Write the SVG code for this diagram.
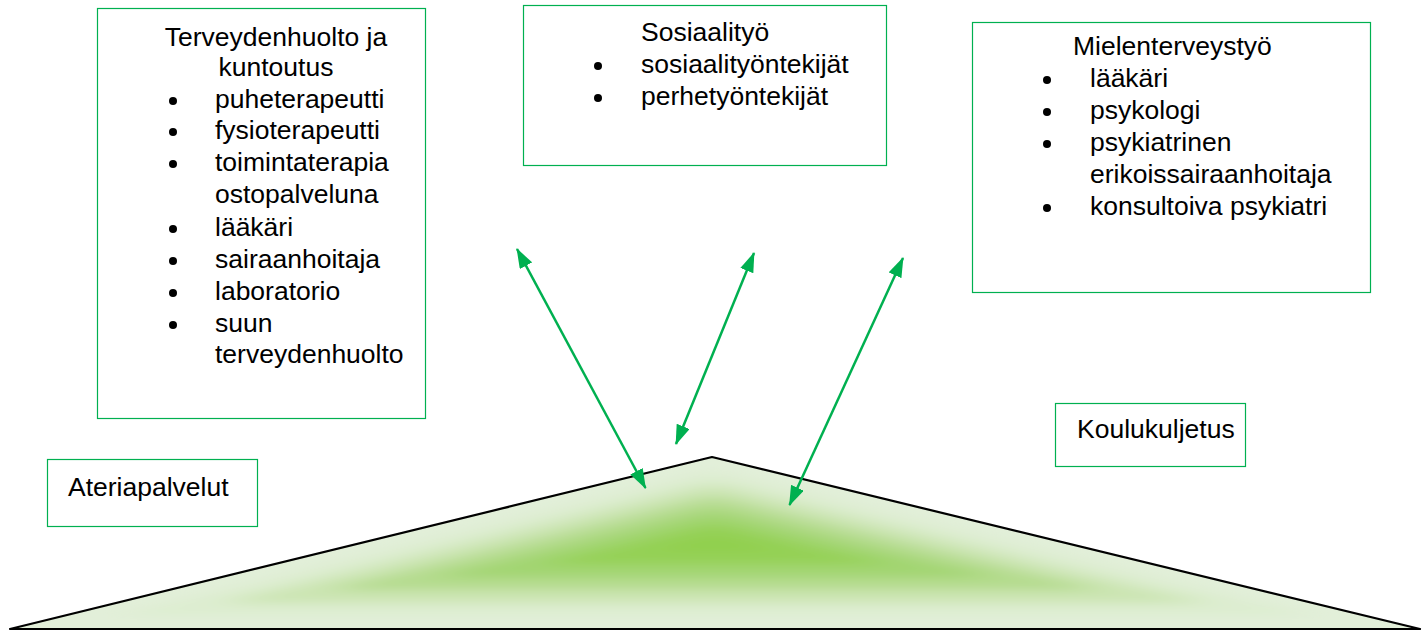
<svg xmlns="http://www.w3.org/2000/svg" width="1425" height="631" viewBox="0 0 1425 631">
<style>
.box{fill:#fff;stroke:#00B050;stroke-width:1.2}
text{font-family:"Liberation Sans",Arial,sans-serif;font-size:26.5px;fill:#000}
.c{text-anchor:middle}
circle{fill:#000}
.con{stroke:#00B050;stroke-width:2.5;fill:none;marker-start:url(#ah);marker-end:url(#ah)}
</style>
<defs>
<marker id="ah" viewBox="0 0 20 14" refX="19" refY="7" markerWidth="20" markerHeight="14" markerUnits="userSpaceOnUse" orient="auto-start-reverse">
<path d="M0,0 L20,7 L0,14 Z" fill="#00B050"/>
</marker>
<clipPath id="tri">
<polygon points="10,629 712,457 1420,629"/>
</clipPath>
<filter id="blur" x="-10%" y="-50%" width="120%" height="200%">
<feGaussianBlur stdDeviation="18 5"/>
</filter>
</defs>
<g id="triangle">
<g clip-path="url(#tri)">
<polygon points="10,629 712,457 1420,629" fill="#E2EFD9"/>
<g filter="url(#blur)">
<polygon points="10,629 712,457 1420,629" fill="#E2EFD9"/>
<polygon points="116.5,616.1 712.5,470 1314.5,616.1" fill="#DDEDD0"/>
<polygon points="221.5,603.2 712.9,483 1208.5,603.2" fill="#CCE5B3"/>
<polygon points="327.3,590.3 713.4,495.7 1102.8,590.3" fill="#B5DC8F"/>
<polygon points="433,577.4 713.8,508.6 997,577.4" fill="#A3D572"/>
<polygon points="538.8,564.5 714.3,521.5 891.3,564.5" fill="#95D156"/>
<polygon points="644.5,551.6 714.7,534.4 785.5,551.6" fill="#90CF4E"/>
</g>
</g>
<polygon points="10,629 712,457 1420,629" fill="none" stroke="#000" stroke-width="2.2" stroke-linejoin="round"/>
</g>
<g id="terveydenhuolto">
<rect class="box" x="97.5" y="8.5" width="328" height="410"/>
<text class="c" x="276" y="46">Terveydenhuolto ja</text>
<text class="c" x="276" y="76">kuntoutus</text>
<circle cx="173" cy="101" r="4"/><text x="215" y="108">puheterapeutti</text>
<circle cx="173" cy="132" r="4"/><text x="215" y="139">fysioterapeutti</text>
<circle cx="173" cy="164" r="4"/><text x="215" y="171">toimintaterapia</text>
<text x="215" y="203">ostopalveluna</text>
<circle cx="173" cy="229" r="4"/><text x="215" y="236">lääkäri</text>
<circle cx="173" cy="261" r="4"/><text x="215" y="268">sairaanhoitaja</text>
<circle cx="173" cy="293" r="4"/><text x="215" y="300">laboratorio</text>
<circle cx="173" cy="325" r="4"/><text x="215" y="332">suun</text>
<text x="215" y="363">terveydenhuolto</text>
</g>
<g id="sosiaalityo">
<rect class="box" x="523.5" y="5.5" width="363" height="160"/>
<text x="641" y="41">Sosiaalityö</text>
<circle cx="598" cy="66" r="4"/><text x="641" y="73">sosiaalityöntekijät</text>
<circle cx="598" cy="98" r="4"/><text x="641" y="105">perhetyöntekijät</text>
</g>
<g id="mielenterveystyo">
<rect class="box" x="972.5" y="22.5" width="398" height="270"/>
<text x="1073" y="55">Mielenterveystyö</text>
<circle cx="1047" cy="80" r="4"/><text x="1090" y="87">lääkäri</text>
<circle cx="1047" cy="112" r="4"/><text x="1090" y="119">psykologi</text>
<circle cx="1047" cy="144" r="4"/><text x="1090" y="151">psykiatrinen</text>
<text x="1090" y="183">erikoissairaanhoitaja</text>
<circle cx="1047" cy="208" r="4"/><text x="1090" y="215">konsultoiva psykiatri</text>
</g>
<g id="ateriapalvelut">
<rect class="box" x="47.5" y="459.5" width="210" height="67"/>
<text x="68" y="496">Ateriapalvelut</text>
</g>
<g id="koulukuljetus">
<rect class="box" x="1055.5" y="403.5" width="190" height="63"/>
<text x="1077" y="438">Koulukuljetus</text>
</g>
<g id="connectors">
<line class="con" x1="517" y1="249" x2="645.5" y2="488"/>
<line class="con" x1="754" y1="253" x2="676" y2="444"/>
<line class="con" x1="903" y1="258" x2="789.5" y2="505"/>
</g>
</svg>
